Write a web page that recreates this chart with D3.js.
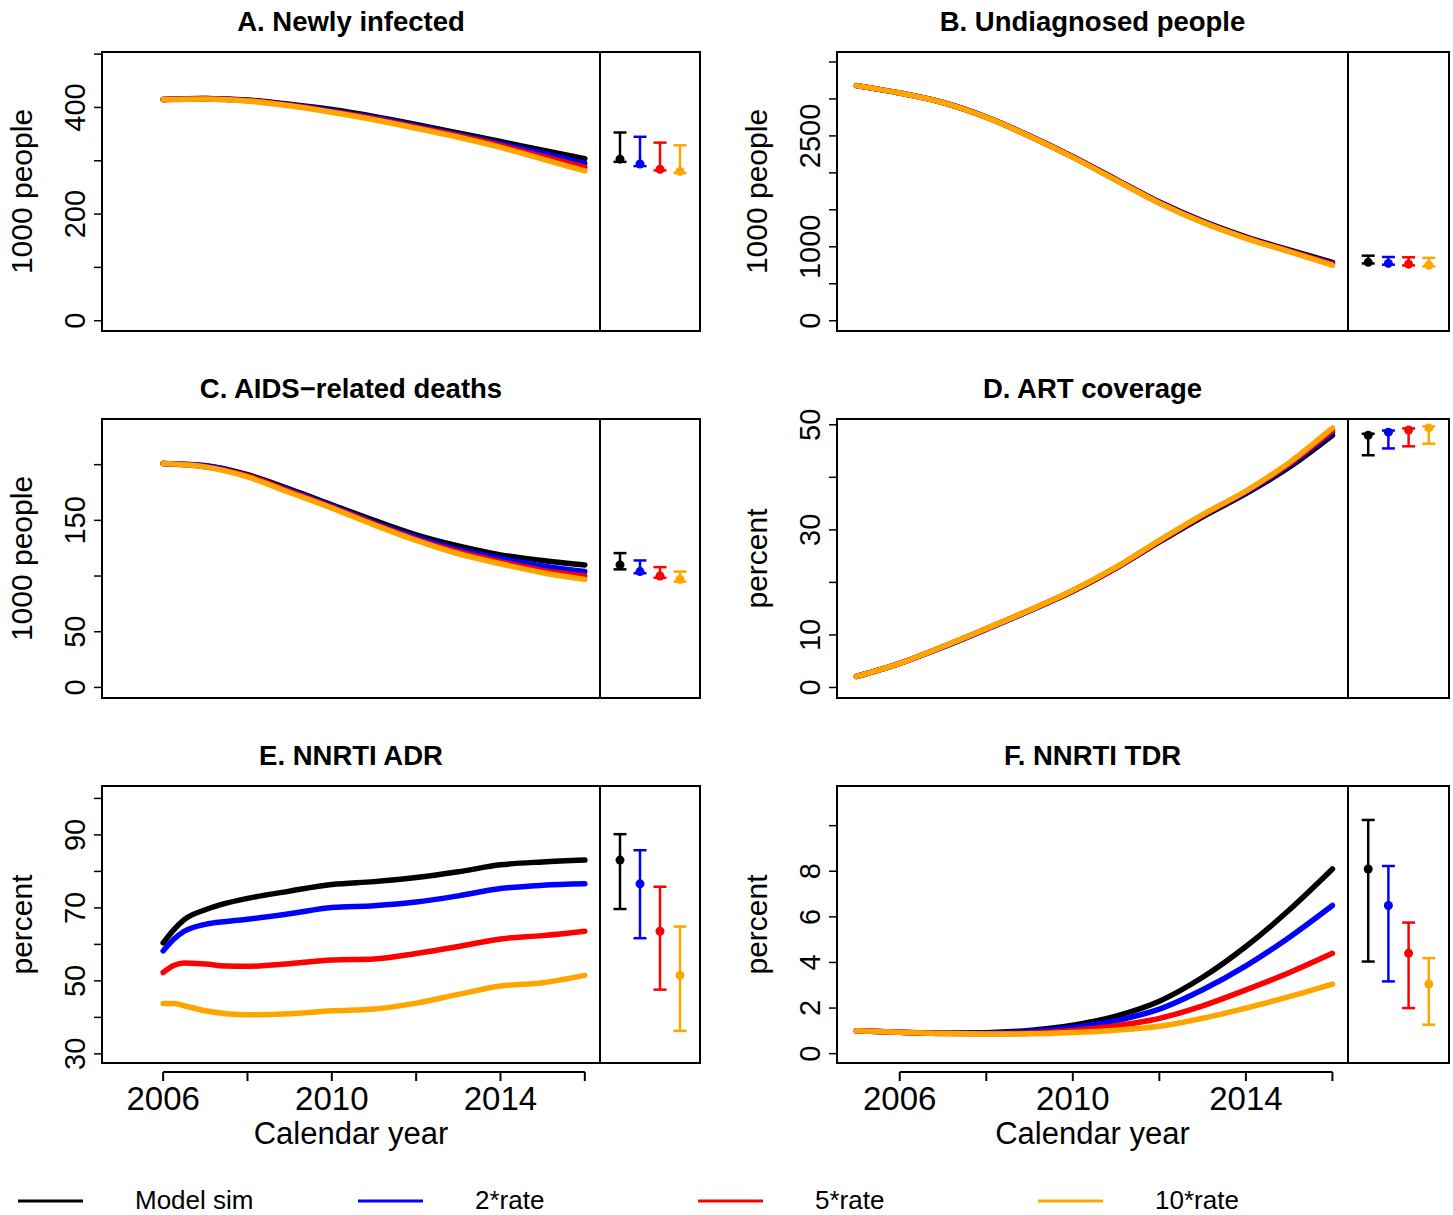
<!DOCTYPE html>
<html>
<head>
<meta charset="utf-8">
<script src="https://cdn.jsdelivr.net/npm/d3@7"></script>
<style>
  body { margin: 0; background: #fff; }
  svg { display: block; }
  text { font-family: "Liberation Sans", Arial, Helvetica, sans-serif; fill: #000; }
</style>
</head>
<body>
<div id="chart"></div>
<script>
// ---- data ----
const seriesNames = ["Model sim", "2*rate", "5*rate", "10*rate"];
const seriesColors = ["#000000", "#0000ff", "#ff0000", "#ffa500"];

const yearsLeft = [2006, 2007, 2008, 2009, 2010, 2011, 2012, 2013, 2014, 2015, 2016];
const yearsRight = [2005, 2006, 2007, 2008, 2009, 2010, 2011, 2012, 2013, 2014, 2015, 2016];
const yearsAdr = [2006, 2006.25, 2006.5, 2007, 2007.5, 2008, 2009, 2010, 2011, 2012, 2013, 2014, 2015, 2016];
const xTicks = [2006, 2008, 2010, 2012, 2014, 2016];
const xTickLabels = [2006, 2010, 2014];

// A. Newly infected
const infModel = [415, 417, 414, 406, 396, 383, 368, 352, 336, 320, 304];
const inf2x    = [415, 417, 413, 405, 394, 381, 365, 349, 332, 314, 295];
const inf5x    = [415, 416, 413, 404, 392, 379, 363, 347, 329, 308, 288];
const inf10x   = [415, 416, 412, 403, 391, 377, 361, 344, 325, 303, 281];
const infMid = [303, 294, 284, 280];
const infLo  = [298, 290, 282, 277];
const infHi  = [353, 345, 334, 329];
const infTicks = [0, 100, 200, 300, 400, 500];
const infTickLabels = [0, 200, 400];

// B. Undiagnosed people
const undModel = [3180, 3080, 2952, 2755, 2502, 2220, 1912, 1605, 1348, 1135, 957, 790];
const und2x    = [3180, 3080, 2951, 2753, 2499, 2216, 1907, 1598, 1340, 1126, 947, 775];
const und5x    = [3180, 3080, 2950, 2752, 2497, 2213, 1904, 1594, 1335, 1120, 941, 765];
const und10x   = [3180, 3080, 2950, 2750, 2495, 2210, 1900, 1590, 1330, 1115, 935, 750];
const undMid = [790, 775, 765, 750];
const undLo  = [775, 758, 748, 735];
const undHi  = [880, 862, 858, 850];
const undTicks = [0, 500, 1000, 1500, 2000, 2500, 3000, 3500];
const undTickLabels = [0, 1000, 2500];

// C. AIDS-related deaths
const dthModel = [201, 199, 191, 178, 164, 150, 137, 127, 119, 114, 110];
const dth2x    = [201, 199, 190, 177, 163, 148, 135, 124, 116, 109, 104];
const dth5x    = [201, 198, 190, 176, 162, 147, 133, 122, 113, 105, 100];
const dth10x   = [201, 198, 189, 175, 161, 146, 132, 120, 111, 103, 97];
const dthMid = [110, 104, 100, 97];
const dthLo  = [106, 102.5, 98.5, 95];
const dthHi  = [120.6, 114, 108, 104];
const dthTicks = [0, 50, 100, 150, 200];
const dthTickLabels = [0, 50, 150];

// D. ART coverage
const artModel = [2.1, 4.6, 7.7, 11.1, 14.6, 18.3, 22.7, 27.7, 32.5, 36.9, 41.9, 48.0];
const art2x    = [2.1, 4.6, 7.7, 11.1, 14.6, 18.4, 22.8, 27.8, 32.7, 37.1, 42.3, 48.6];
const art5x    = [2.1, 4.6, 7.8, 11.2, 14.7, 18.4, 22.8, 27.9, 32.8, 37.3, 42.6, 49.0];
const art10x   = [2.1, 4.6, 7.8, 11.2, 14.7, 18.5, 22.9, 28.0, 32.9, 37.4, 42.8, 49.4];
const artMid = [48.0, 48.6, 49.0, 49.4];
const artLo  = [44.2, 45.5, 45.9, 46.4];
const artHi  = [48.3, 48.9, 49.3, 49.7];
const artTicks = [0, 10, 20, 30, 40, 50];
const artTickLabels = [0, 10, 30, 50];

// E. NNRTI ADR
const adrModel = [60.4, 64.0, 66.8, 69.5, 71.3, 72.6, 74.6, 76.4, 77.2, 78.3, 79.9, 81.8, 82.6, 83.1];
const adr2x    = [58.2, 61.4, 63.6, 65.5, 66.3, 66.9, 68.4, 70.1, 70.6, 71.6, 73.3, 75.3, 76.2, 76.6];
const adr5x    = [52.3, 54.2, 54.9, 54.6, 54.1, 54.0, 54.7, 55.7, 56.0, 57.5, 59.4, 61.5, 62.4, 63.6];
const adr10x   = [43.8, 43.8, 43.2, 41.8, 41.0, 40.7, 41.0, 41.8, 42.3, 43.9, 46.3, 48.6, 49.5, 51.5];
const adrMid = [83.1, 76.6, 63.6, 51.5];
const adrLo  = [69.7, 61.7, 47.6, 36.3];
const adrHi  = [90.2, 85.8, 75.8, 64.9];
const adrTicks = [30, 40, 50, 60, 70, 80, 90, 100];
const adrTickLabels = [30, 50, 70, 90];

// F. NNRTI TDR
const tdrModel = [1.0, 0.94, 0.90, 0.92, 1.02, 1.25, 1.65, 2.3, 3.35, 4.7, 6.3, 8.1];
const tdr2x    = [1.0, 0.94, 0.89, 0.90, 0.97, 1.15, 1.45, 1.95, 2.8, 3.85, 5.1, 6.5];
const tdr5x    = [1.0, 0.94, 0.88, 0.87, 0.90, 1.02, 1.22, 1.55, 2.1, 2.8, 3.55, 4.4];
const tdr10x   = [1.0, 0.94, 0.88, 0.86, 0.87, 0.93, 1.03, 1.2, 1.55, 2.0, 2.5, 3.05];
const tdrMid = [8.1, 6.5, 4.4, 3.05];
const tdrLo  = [4.04, 3.17, 2.0, 1.27];
const tdrHi  = [10.25, 8.23, 5.75, 4.19];
const tdrTicks = [0, 2, 4, 6, 8, 10];
const tdrTickLabels = [0, 2, 4, 6, 8];

// ---- layout ----
const W = 1453, H = 1215;
const cols = [
  { left: 102, split: 600, right: 700 },
  { left: 837, split: 1348, right: 1449 },
];
const rows = [
  { top: 52, bottom: 331 },
  { top: 419, bottom: 698 },
  { top: 786, bottom: 1063 },
];
const xDomain = [2004.55, 2016.36];

const panels = [
  { title: "A. Newly infected", ylab: "1000 people", col: 0, row: 0, years: yearsLeft,
    series: [infModel, inf2x, inf5x, inf10x], mid: infMid, lo: infLo, hi: infHi,
    yDomain: [-19.3, 504], ticks: infTicks, tickLabels: infTickLabels },
  { title: "B. Undiagnosed people", ylab: "1000 people", col: 1, row: 0, years: yearsRight,
    series: [undModel, und2x, und5x, und10x], mid: undMid, lo: undLo, hi: undHi,
    yDomain: [-139, 3635], ticks: undTicks, tickLabels: undTickLabels },
  { title: "C. AIDS\u2212related deaths", ylab: "1000 people", col: 0, row: 1, years: yearsLeft,
    series: [dthModel, dth2x, dth5x, dth10x], mid: dthMid, lo: dthLo, hi: dthHi,
    yDomain: [-9.5, 241], ticks: dthTicks, tickLabels: dthTickLabels },
  { title: "D. ART coverage", ylab: "percent", col: 1, row: 1, years: yearsRight,
    series: [artModel, art2x, art5x, art10x], mid: artMid, lo: artLo, hi: artHi,
    yDomain: [-2.0, 51.1], ticks: artTicks, tickLabels: artTickLabels },
  { title: "E. NNRTI ADR", ylab: "percent", col: 0, row: 2, years: yearsAdr,
    series: [adrModel, adr2x, adr5x, adr10x], mid: adrMid, lo: adrLo, hi: adrHi,
    yDomain: [27.5, 103.4], ticks: adrTicks, tickLabels: adrTickLabels, xaxis: true },
  { title: "F. NNRTI TDR", ylab: "percent", col: 1, row: 2, years: yearsRight,
    series: [tdrModel, tdr2x, tdr5x, tdr10x], mid: tdrMid, lo: tdrLo, hi: tdrHi,
    yDomain: [-0.41, 11.74], ticks: tdrTicks, tickLabels: tdrTickLabels, xaxis: true },
];

const svg = d3.select("#chart").append("svg")
  .attr("width", W).attr("height", H)
  .attr("viewBox", `0 0 ${W} ${H}`);

function drawPanel(p) {
  const c = cols[p.col], r = rows[p.row];
  const g = svg.append("g");

  const x = d3.scaleLinear().domain(xDomain).range([c.left, c.split]);
  const y = d3.scaleLinear().domain(p.yDomain).range([r.bottom, r.top]);
  const xe = d3.scaleLinear().domain([0, 5]).range([c.split, c.right]);

  // title
  g.append("text")
    .attr("x", (c.left + c.split) / 2)
    .attr("y", r.top - 21)
    .attr("text-anchor", "middle")
    .style("font-size", "27.5px")
    .style("font-weight", "bold")
    .text(p.title);

  // simulation lines, black drawn first, orange on top
  const line = d3.line()
    .x((d) => x(d[0]))
    .y((d) => y(d[1]))
    .curve(d3.curveMonotoneX);

  p.series.forEach((vals, i) => {
    g.append("path")
      .datum(p.years.map((yr, k) => [yr, vals[k]]))
      .attr("d", line)
      .attr("fill", "none")
      .attr("stroke", seriesColors[i])
      .attr("stroke-width", 5.5)
      .attr("stroke-linecap", "round")
      .attr("stroke-linejoin", "round");
  });

  // error bars in the side box
  const capW = 6.5;
  p.mid.forEach((m, i) => {
    const ex = xe(i + 1);
    const eb = g.append("g").attr("stroke", seriesColors[i]).attr("stroke-width", 2.5);
    eb.append("line").attr("x1", ex).attr("x2", ex).attr("y1", y(p.lo[i])).attr("y2", y(p.hi[i]));
    eb.append("line").attr("x1", ex - capW).attr("x2", ex + capW).attr("y1", y(p.hi[i])).attr("y2", y(p.hi[i]));
    eb.append("line").attr("x1", ex - capW).attr("x2", ex + capW).attr("y1", y(p.lo[i])).attr("y2", y(p.lo[i]));
    g.append("circle").attr("cx", ex).attr("cy", y(m)).attr("r", 4.5).attr("fill", seriesColors[i]);
  });

  // box + divider
  g.append("rect")
    .attr("x", c.left).attr("y", r.top)
    .attr("width", c.right - c.left).attr("height", r.bottom - r.top)
    .attr("fill", "none").attr("stroke", "#000").attr("stroke-width", 2);
  g.append("line")
    .attr("x1", c.split).attr("x2", c.split)
    .attr("y1", r.top).attr("y2", r.bottom)
    .attr("stroke", "#000").attr("stroke-width", 2);

  // y axis ticks + rotated labels
  g.selectAll(".ytick").data(p.ticks).join("line")
    .attr("x1", c.left - 8).attr("x2", c.left)
    .attr("y1", (d) => y(d)).attr("y2", (d) => y(d))
    .attr("stroke", "#000").attr("stroke-width", 1.5);
  g.selectAll(".ylab").data(p.tickLabels).join("text")
    .attr("transform", (d) => `translate(${c.left - 17},${y(d)}) rotate(-90)`)
    .attr("text-anchor", "middle")
    .style("font-size", "29px")
    .text((d) => d);

  g.append("text")
    .attr("transform", `translate(${c.left - 70},${(r.top + r.bottom) / 2}) rotate(-90)`)
    .attr("text-anchor", "middle")
    .style("font-size", "30px")
    .text(p.ylab);

  // x axis for bottom row
  if (p.xaxis) {
    const axY = r.bottom + 9;
    g.append("line")
      .attr("x1", x(xTicks[0])).attr("x2", x(xTicks[xTicks.length - 1]))
      .attr("y1", axY).attr("y2", axY)
      .attr("stroke", "#000").attr("stroke-width", 2);
    g.selectAll(".xtick").data(xTicks).join("line")
      .attr("x1", (d) => x(d)).attr("x2", (d) => x(d))
      .attr("y1", axY).attr("y2", axY + 9)
      .attr("stroke", "#000").attr("stroke-width", 2);
    g.selectAll(".xlab").data(xTickLabels).join("text")
      .attr("x", (d) => x(d)).attr("y", r.bottom + 47)
      .attr("text-anchor", "middle")
      .style("font-size", "33px")
      .text((d) => d);
    g.append("text")
      .attr("x", (c.left + c.split) / 2).attr("y", r.bottom + 81)
      .attr("text-anchor", "middle")
      .style("font-size", "31px")
      .text("Calendar year");
  }
}

panels.forEach(drawPanel);

// legend along the bottom
const legendX = d3.scalePoint().domain(seriesNames).range([18, 1038]);
const legend = svg.append("g").attr("transform", "translate(0,1201)");
seriesNames.forEach((name, i) => {
  const lx = legendX(name);
  legend.append("line")
    .attr("x1", lx).attr("x2", lx + 65).attr("y1", 0).attr("y2", 0)
    .attr("stroke", seriesColors[i]).attr("stroke-width", 3);
  legend.append("text")
    .attr("x", lx + 117).attr("y", 8)
    .style("font-size", "26px")
    .text(name);
});
</script>
</body>
</html>
